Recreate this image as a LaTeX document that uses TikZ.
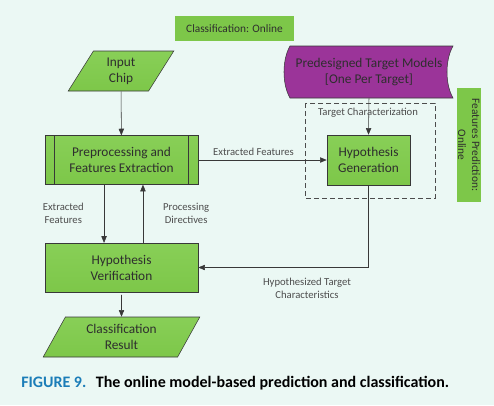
\documentclass[tikz,border=0pt]{standalone}
\usepackage{fontspec}
\setmainfont{Carlito}
\usetikzlibrary{positioning, shapes.geometric, arrows.meta, calc}
\definecolor{bgmint}{HTML}{EBF8F4}
\definecolor{boxgreen}{HTML}{7DC749}
\definecolor{boxgreenlight}{HTML}{88CF57}
\definecolor{storepurple}{HTML}{9B3499}
\definecolor{edgegray}{HTML}{383838}
\definecolor{textgray}{HTML}{2E2E2E}
\definecolor{capblue}{HTML}{1B7DB8}

\tikzset{
  flowbox/.style={draw=edgegray, top color=boxgreenlight, bottom color=boxgreen, text=textgray, align=center, font=\fontsize{10}{12}\selectfont, inner sep=2pt},
  procbox/.style={flowbox, minimum width=114.75pt, minimum height=36.5pt},
  predefbox/.style={procbox, path picture={
      \draw[edgegray] ([xshift=6.75pt]path picture bounding box.north west) -- ([xshift=6.75pt]path picture bounding box.south west);
      \draw[edgegray] ([xshift=-7.5pt]path picture bounding box.north east) -- ([xshift=-7.5pt]path picture bounding box.south east);}},
  iobox/.style={flowbox, trapezium, trapezium left angle=64, trapezium right angle=116, trapezium stretches=true, minimum height=30pt},
  tagbox/.style={fill=boxgreen, text=textgray, align=center, font=\fontsize{8.5}{10.5}\selectfont, inner sep=1pt},
  flowlabel/.style={text=textgray!85, align=center, font=\fontsize{8}{9.75}\selectfont, inner sep=1pt},
  flowline/.style={draw=edgegray, -{Triangle[length=5pt,width=4pt]}},
}

\begin{document}
\begin{tikzpicture}[x=0.75pt, y=-0.75pt]
\fill[bgmint] (0,0) rectangle (494,405);
\useasboundingbox (0,0) rectangle (494,405);

% Mode tags
\node[tagbox, minimum width=89.25pt, minimum height=18.75pt] (mode) at (234.5,28.5) {Classification: Online};
\node[tagbox, rotate=-90, minimum width=85.5pt, minimum height=18pt] (fpred) at (469,145) {Features Prediction:\\Online};

% Target models (stored data)
\draw[draw=edgegray, fill=storepurple] (290,46) -- (453,46) .. controls (445,60) and (445,84) .. (453,98) -- (290,98) .. controls (282,84) and (282,60) .. (290,46) -- cycle;
\node[text=textgray, align=center, font=\fontsize{10}{12}\selectfont, minimum height=39pt] (models) at (369,72) {Predesigned Target Models\\{}[One Per Target]};

% Characterization region
\draw[edgegray!90, line width=0.6pt, dash pattern=on 3.75pt off 2.25pt] (305,103) rectangle (435,198);
\node[flowlabel] (charlbl) at (368,113) {Target Characterization};

% Flow nodes
\node[iobox, minimum width=79.5pt] (input) at (121,71) {Input\\Chip};
\node[predefbox] (prep) at (121.5,160) {Preprocessing and\\Features Extraction};
\node[flowbox, minimum width=62.25pt, minimum height=37.5pt] (hypgen) at (368.5,160) {Hypothesis\\Generation};
\node[procbox] (hypver) at (121.5,267.5) {Hypothesis\\Verification};
\node[iobox, minimum width=117.75pt] (result) at (121.5,337) {Classification\\Result};

% Connectors
\draw[flowline] (input) -- (prep);
\draw[flowline] (prep.east) -- node[flowlabel, above=2pt, pos=0.43] {Extracted Features} (hypgen.west);
\draw[flowline] (models.south) -- (hypgen.north);
\draw[flowline] (hypgen.south) |- (hypver.east);
\node[flowlabel] (hyplbl) at (307,288) {Hypothesized Target\\Characteristics};
\draw[flowline] ([xshift=-13.1pt]prep.south) -- node[flowlabel, left=14pt] {Extracted\\Features} ([xshift=-13.1pt]hypver.north);
\draw[flowline] ([xshift=16.1pt]hypver.north) -- node[flowlabel, right=14pt] {Processing\\Directives} ([xshift=16.1pt]prep.south);
\draw[flowline] ([yshift=-2pt]hypver.south) -- (result.north);

% Caption
\node[anchor=west, inner sep=0pt, font=\fontsize{12}{14}\selectfont\bfseries] (caption) at (21,383) {\textcolor{capblue}{FIGURE 9.}\hspace{0.6em}The online model-based prediction and classification.};
\end{tikzpicture}
\end{document}
